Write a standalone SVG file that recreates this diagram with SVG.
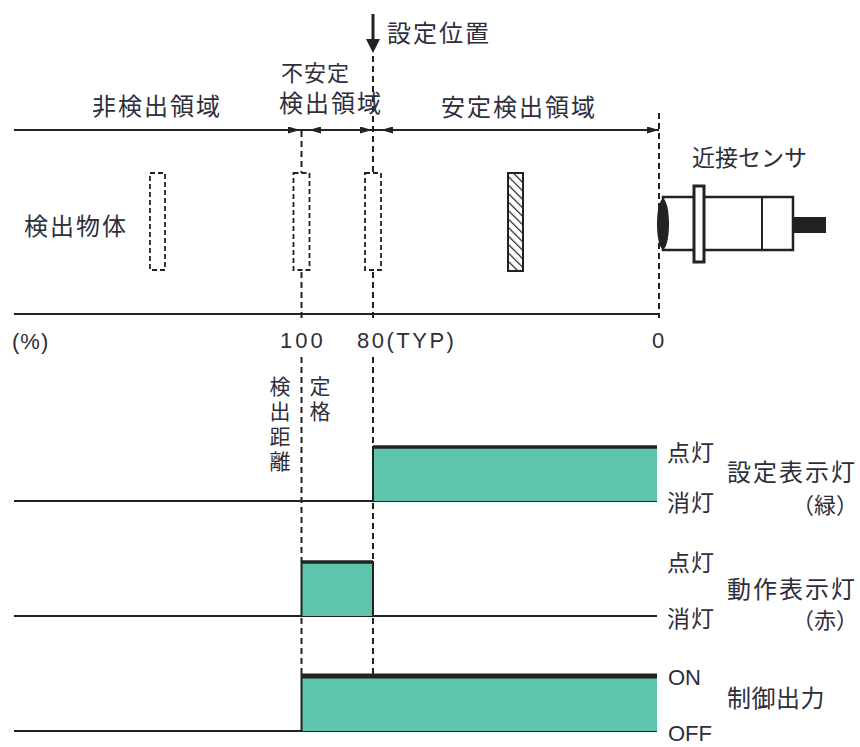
<svg xmlns="http://www.w3.org/2000/svg" width="860" height="747" viewBox="0 0 860 747">
<style>
.t{font-family:"Noto Sans CJK JP","Noto Sans",sans-serif;font-size:24px;fill:#2e2e3a;letter-spacing:2px}
.n{font-family:"Liberation Sans",Arial,sans-serif;font-size:22px;fill:#2e2e3a;letter-spacing:2.5px}
.v{font-family:"Noto Sans CJK JP","Noto Sans",sans-serif;font-size:21px;fill:#2e2e3a;letter-spacing:4px;writing-mode:vertical-rl}
.ln{stroke:#222;stroke-width:2;fill:none}
.dash{stroke:#222;stroke-width:2;stroke-dasharray:6 4;fill:none}
.obj{stroke:#222;stroke-width:1.8;stroke-dasharray:5 3;fill:#fff}
.green{fill:#5ec4ab}
.top{stroke:#222;fill:none}
</style>
<defs>
<marker id="ah" viewBox="0 0 12 7" refX="12" refY="3.5" markerWidth="12" markerHeight="7" markerUnits="userSpaceOnUse" orient="auto">
<path d="M0,0 L12,3.5 L0,7 z" fill="#222"/>
</marker>
<pattern id="hatch" width="6" height="6" patternUnits="userSpaceOnUse" patternTransform="rotate(-45)">
<rect width="6" height="6" fill="#fff"/>
<line x1="0" y1="0" x2="0" y2="6" stroke="#222" stroke-width="2.4"/>
</pattern>
</defs>

<g id="connectors">
<line class="ln" x1="14" y1="130" x2="659" y2="130"/>
<line class="ln" x1="280" y1="130" x2="300" y2="130" marker-end="url(#ah)"/>
<line class="ln" x1="322" y1="130" x2="309" y2="130" marker-end="url(#ah)"/>
<line class="ln" x1="352" y1="130" x2="372" y2="130" marker-end="url(#ah)"/>
<line class="ln" x1="394" y1="130" x2="381" y2="130" marker-end="url(#ah)"/>
<line class="ln" x1="640" y1="130" x2="659" y2="130" marker-end="url(#ah)"/>
<line class="ln" x1="14" y1="314" x2="659" y2="314"/>
<line x1="373" y1="14" x2="373" y2="42" stroke="#222" stroke-width="3"/>
<polygon points="366,39 380,39 373,53" fill="#222"/>
<line class="dash" x1="373" y1="56" x2="373" y2="173"/>
<line class="dash" x1="301.5" y1="131" x2="301.5" y2="173"/>
<line class="dash" x1="659" y1="113" x2="659" y2="318"/>
<line class="dash" x1="301.5" y1="272" x2="301.5" y2="320"/>
<line class="dash" x1="373" y1="272" x2="373" y2="320"/>
<line class="dash" x1="301.5" y1="357" x2="301.5" y2="562"/>
<line class="dash" x1="373" y1="357" x2="373" y2="447"/>
<line class="dash" x1="373" y1="503" x2="373" y2="562"/>
<line class="dash" x1="301.5" y1="618" x2="301.5" y2="675"/>
<line class="dash" x1="373" y1="618" x2="373" y2="675"/>
</g>

<g id="objects">
<rect class="obj" x="150" y="173" width="15" height="97"/>
<rect class="obj" x="293.5" y="173" width="16" height="97"/>
<rect class="obj" x="365" y="173" width="16" height="97"/>
<rect x="508" y="173" width="15" height="98" fill="url(#hatch)" stroke="#222" stroke-width="2"/>
</g>

<g id="sensor">
<rect x="663" y="197" width="130" height="53" fill="#fff" stroke="#222" stroke-width="2.5"/>
<line class="ln" x1="762" y1="197" x2="762" y2="250" stroke-width="2.5"/>
<rect x="793" y="217" width="33" height="16" fill="#222"/>
<ellipse cx="663" cy="224" rx="6" ry="25" fill="#222"/>
<rect x="694" y="186" width="10" height="76" fill="#fff" stroke="#222" stroke-width="3"/>
</g>

<g id="signal-setting">
<line class="ln" x1="14" y1="501" x2="657" y2="501"/>
<rect class="green" x="373" y="447" width="284" height="54"/>
<line class="top" x1="373" y1="447" x2="657" y2="447" stroke-width="3.5"/>
<line class="ln" x1="373" y1="446" x2="373" y2="501"/>
</g>

<g id="signal-operation">
<line class="ln" x1="14" y1="616" x2="657" y2="616"/>
<rect class="green" x="301.5" y="562" width="71.5" height="54"/>
<line class="top" x1="301.5" y1="562" x2="373" y2="562" stroke-width="3.5"/>
<line class="ln" x1="301.5" y1="561" x2="301.5" y2="616"/>
<line class="ln" x1="373" y1="561" x2="373" y2="616"/>
</g>

<g id="signal-output">
<line class="ln" x1="14" y1="731" x2="657" y2="731"/>
<rect class="green" x="301.5" y="675" width="355.5" height="56"/>
<line class="top" x1="301.5" y1="676" x2="657" y2="676" stroke-width="5"/>
<line class="ln" x1="301.5" y1="674" x2="301.5" y2="731"/>
</g>

<g id="labels">
<text class="t" x="387" y="42">設定位置</text>
<text class="t" x="281" y="81" style="font-size:22px;letter-spacing:1px">不安定</text>
<text class="t" x="279" y="112">検出領域</text>
<text class="t" x="92" y="115">非検出領域</text>
<text class="t" x="441" y="116">安定検出領域</text>
<text class="t" x="24" y="235">検出物体</text>
<text class="t" x="692" y="166" style="font-size:23px;letter-spacing:0">近接センサ</text>
<text class="n" x="12" y="349" style="letter-spacing:1px">(%)</text>
<text class="n" x="280" y="348" style="letter-spacing:3px">100</text>
<text class="n" x="357" y="348">80(TYP)</text>
<text class="n" x="652" y="348">0</text>
<text class="v" x="280" y="376">検出距離</text>
<text class="v" x="320" y="376">定格</text>
<text class="t" x="667" y="461" style="font-size:23px;letter-spacing:1px">点灯</text>
<text class="t" x="667" y="511" style="font-size:23px;letter-spacing:1px">消灯</text>
<text class="t" x="727" y="481">設定表示灯</text>
<text class="t" x="858" y="513" text-anchor="end" style="font-size:22px;letter-spacing:0">（緑）</text>
<text class="t" x="667" y="571" style="font-size:23px;letter-spacing:1px">点灯</text>
<text class="t" x="667" y="627" style="font-size:23px;letter-spacing:1px">消灯</text>
<text class="t" x="727" y="598">動作表示灯</text>
<text class="t" x="858" y="628" text-anchor="end" style="font-size:22px;letter-spacing:0">（赤）</text>
<text class="n" x="668" y="685" style="letter-spacing:0">ON</text>
<text class="t" x="727" y="707" style="letter-spacing:0.5px">制御出力</text>
<text class="n" x="668" y="741" style="letter-spacing:0">OFF</text>
</g>
</svg>
